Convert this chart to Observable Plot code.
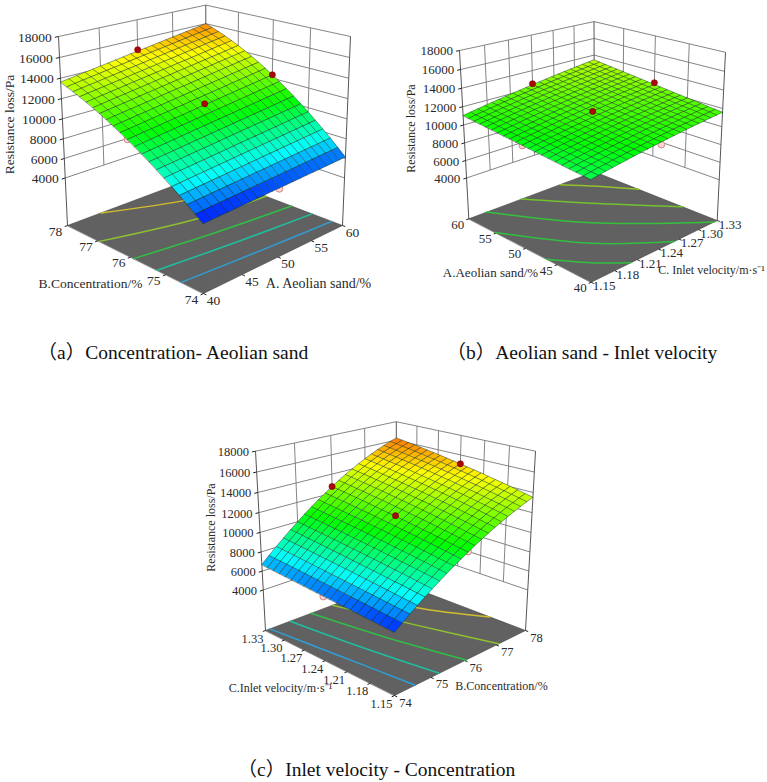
<!DOCTYPE html>
<html><head><meta charset="utf-8">
<style>html,body{margin:0;padding:0;background:#fff}</style>
<script src="https://cdn.jsdelivr.net/npm/d3@7"></script>
<script src="https://cdn.jsdelivr.net/npm/@observablehq/plot@0.6"></script>
</head><body><div id="chart"></div>
<script>
// Resistance loss (Pa) read from the surfaces; rows follow the left floor axis, columns the right floor axis.
const surfaceA = [ // rows B 74..78, columns A 40..60
[5460,5490,5530,5560,5600,5630,5660,5700,5730,5770,5800,5830,5870,5900,5940,5970,6000,6040,6070,6110,6140],
[6030,6070,6120,6160,6200,6240,6280,6330,6370,6410,6450,6490,6540,6580,6620,6660,6710,6750,6790,6830,6880],
[6590,6640,6690,6740,6790,6840,6890,6940,6990,7040,7090,7140,7190,7240,7290,7340,7390,7440,7490,7540,7590],
[7120,7180,7240,7300,7350,7410,7470,7530,7580,7640,7700,7760,7810,7870,7930,7990,8040,8100,8160,8220,8270],
[7640,7710,7770,7840,7900,7960,8030,8090,8160,8220,8290,8350,8420,8480,8550,8610,8680,8740,8800,8870,8930],
[8140,8220,8290,8360,8430,8500,8570,8640,8710,8790,8860,8930,9000,9070,9140,9210,9280,9360,9430,9500,9570],
[8630,8710,8780,8860,8940,9020,9090,9170,9250,9330,9400,9480,9560,9640,9710,9790,9870,9950,10020,10100,10180],
[9100,9180,9260,9350,9430,9510,9600,9680,9760,9850,9930,10010,10100,10180,10260,10340,10430,10510,10590,10680,10760],
[9550,9640,9730,9810,9900,9990,10080,10170,10260,10340,10430,10520,10610,10700,10790,10880,10960,11050,11140,11230,11320],
[9980,10080,10170,10260,10360,10450,10540,10640,10730,10820,10920,11010,11100,11200,11290,11380,11480,11570,11660,11760,11850],
[10400,10500,10600,10690,10790,10890,10990,11080,11180,11280,11380,11480,11570,11670,11770,11870,11960,12060,12160,12260,12360],
[10800,10900,11000,11110,11210,11310,11410,11510,11610,11720,11820,11920,12020,12120,12220,12330,12430,12530,12630,12730,12840],
[11180,11290,11390,11500,11600,11710,11810,11920,12030,12130,12240,12340,12450,12550,12660,12760,12870,12970,13080,13180,13290],
[11550,11660,11770,11870,11980,12090,12200,12310,12420,12530,12630,12740,12850,12960,13070,13180,13290,13390,13500,13610,13720],
[11900,12010,12120,12230,12340,12460,12570,12680,12790,12900,13010,13120,13230,13340,13450,13570,13680,13790,13900,14010,14120],
[12230,12340,12460,12570,12680,12800,12910,13020,13140,13250,13360,13480,13590,13700,13820,13930,14050,14160,14270,14390,14500],
[12540,12660,12770,12890,13000,13120,13240,13350,13470,13580,13700,13810,13930,14040,14160,14270,14390,14500,14620,14730,14850],
[12840,12960,13080,13190,13310,13420,13540,13660,13770,13890,14010,14130,14240,14360,14480,14590,14710,14830,14940,15060,15180],
[13120,13240,13360,13470,13590,13710,13830,13950,14060,14180,14300,14420,14530,14650,14770,14890,15010,15120,15240,15360,15480],
[13380,13500,13620,13740,13860,13980,14090,14210,14330,14450,14570,14690,14800,14920,15040,15160,15280,15400,15510,15630,15750],
[13630,13750,13870,13990,14100,14220,14340,14460,14580,14700,14820,14930,15050,15170,15290,15410,15530,15640,15760,15880,16000]];
const surfaceB = [ // rows A 40..60, columns C 1.15..1.33
[9680,9800,9930,10040,10160,10270,10380,10490,10590,10690,10790,10880,10970,11060,11140,11230,11300,11380,11450,11520,11590],
[9750,9870,10000,10110,10230,10340,10450,10560,10670,10770,10870,10960,11050,11140,11230,11310,11390,11470,11540,11610,11680],
[9820,9940,10070,10190,10300,10420,10530,10640,10740,10850,10950,11040,11140,11230,11310,11400,11480,11560,11630,11710,11770],
[9880,10010,10140,10260,10380,10490,10610,10710,10820,10920,11030,11120,11220,11310,11400,11480,11570,11650,11720,11800,11870],
[9950,10080,10210,10330,10450,10570,10680,10790,10900,11000,11110,11200,11300,11390,11480,11570,11650,11730,11810,11890,11960],
[10020,10150,10280,10400,10520,10640,10760,10870,10980,11080,11190,11290,11380,11480,11570,11660,11740,11820,11900,11980,12050],
[10090,10220,10350,10470,10600,10710,10830,10940,11050,11160,11270,11370,11460,11560,11650,11740,11830,11910,11990,12070,12140],
[10160,10290,10420,10540,10670,10790,10910,11020,11130,11240,11350,11450,11550,11640,11740,11830,11910,12000,12080,12160,12230],
[10220,10360,10490,10620,10740,10860,10980,11100,11210,11320,11430,11530,11630,11730,11820,11910,12000,12090,12170,12250,12330],
[10290,10430,10560,10690,10810,10940,11060,11170,11290,11400,11510,11610,11710,11810,11910,12000,12090,12180,12260,12340,12420],
[10360,10500,10630,10760,10890,11010,11130,11250,11360,11480,11590,11690,11790,11890,11990,12090,12180,12260,12350,12430,12510],
[10430,10570,10700,10830,10960,11080,11210,11330,11440,11560,11670,11770,11880,11980,12080,12170,12260,12350,12440,12520,12600],
[10500,10630,10770,10900,11030,11160,11280,11400,11520,11630,11750,11850,11960,12060,12160,12260,12350,12440,12530,12610,12690],
[10560,10700,10840,10970,11100,11230,11360,11480,11600,11710,11830,11940,12040,12150,12250,12340,12440,12530,12620,12700,12790],
[10630,10770,10910,11050,11180,11310,11430,11560,11670,11790,11910,12020,12120,12230,12330,12430,12530,12620,12710,12790,12880],
[10700,10840,10980,11120,11250,11380,11510,11630,11750,11870,11990,12100,12210,12310,12420,12520,12610,12710,12800,12890,12970],
[10770,10910,11050,11190,11320,11450,11580,11710,11830,11950,12070,12180,12290,12400,12500,12600,12700,12790,12890,12980,13060],
[10840,10980,11120,11260,11400,11530,11660,11780,11910,12030,12150,12260,12370,12480,12590,12690,12790,12880,12980,13070,13150],
[10900,11050,11190,11330,11470,11600,11730,11860,11990,12110,12230,12340,12450,12560,12670,12770,12870,12970,13070,13160,13250],
[10970,11120,11260,11400,11540,11680,11810,11940,12060,12190,12310,12420,12540,12650,12750,12860,12960,13060,13160,13250,13340],
[11040,11190,11330,11480,11610,11750,11880,12010,12140,12260,12390,12500,12620,12730,12840,12950,13050,13150,13250,13340,13430]];
const surfaceC = [ // rows C 1.15..1.33, columns B 74..78
[5640,6190,6720,7240,7740,8220,8690,9140,9580,10000,10400,10790,11160,11510,11850,12170,12470,12760,13030,13290,13530],
[5690,6250,6790,7320,7830,8320,8800,9260,9700,10130,10530,10930,11300,11660,12000,12330,12640,12930,13200,13460,13700],
[5750,6310,6870,7400,7920,8420,8900,9370,9820,10250,10670,11060,11440,11810,12150,12480,12790,13090,13370,13630,13870],
[5800,6380,6940,7480,8010,8520,9010,9480,9940,10370,10800,11200,11580,11950,12300,12640,12950,13250,13530,13790,14040],
[5850,6440,7010,7560,8090,8610,9110,9590,10050,10500,10920,11330,11720,12090,12450,12780,13100,13400,13690,13950,14200],
[5900,6500,7080,7640,8180,8710,9210,9700,10170,10620,11050,11460,11860,12230,12590,12930,13250,13560,13840,14110,14350],
[5960,6560,7150,7720,8270,8800,9310,9800,10280,10740,11170,11590,11990,12370,12730,13080,13400,13700,13990,14260,14510],
[6010,6620,7220,7800,8350,8890,9410,9910,10390,10850,11290,11720,12120,12500,12870,13220,13540,13850,14140,14410,14660],
[6060,6680,7290,7870,8440,8980,9510,10010,10500,10970,11410,11840,12250,12640,13000,13350,13680,13990,14280,14550,14800],
[6110,6750,7360,7950,8520,9070,9610,10120,10610,11080,11530,11960,12380,12770,13140,13490,13820,14130,14420,14690,14940],
[6170,6810,7430,8030,8600,9160,9700,10220,10720,11190,11650,12080,12500,12890,13270,13620,13950,14270,14560,14830,15080],
[6220,6870,7490,8100,8690,9250,9800,10320,10820,11300,11760,12200,12620,13020,13390,13750,14080,14400,14690,14960,15210],
[6270,6930,7560,8180,8770,9340,9890,10420,10920,11410,11870,12320,12740,13140,13520,13880,14210,14530,14820,15090,15340],
[6320,6990,7630,8250,8850,9430,9980,10510,11030,11520,11980,12430,12850,13260,13640,14000,14340,14650,14950,15220,15470],
[6380,7050,7700,8320,8930,9510,10070,10610,11130,11620,12090,12540,12970,13370,13760,14120,14460,14780,15070,15340,15590],
[6430,7110,7760,8400,9010,9600,10160,10700,11230,11720,12200,12650,13080,13490,13870,14240,14580,14890,15190,15460,15710],
[6480,7170,7830,8470,9090,9680,10250,10800,11320,11820,12300,12760,13190,13600,13990,14350,14690,15010,15300,15580,15820],
[6530,7230,7900,8540,9160,9760,10340,10890,11420,11920,12410,12860,13300,13710,14100,14460,14800,15120,15420,15690,15930],
[6590,7290,7960,8610,9240,9840,10420,10980,11510,12020,12510,12970,13400,13820,14210,14570,14910,15230,15520,15790,16040],
[6640,7340,8030,8680,9320,9930,10510,11070,11600,12120,12600,13070,13510,13920,14310,14680,15020,15340,15630,15900,16140],
[6690,7400,8090,8750,9390,10000,10590,11160,11700,12210,12700,13170,13610,14020,14410,14780,15120,15440,15730,16000,16240]];

const resistanceTicks = [4000,6000,8000,10000,12000,14000,16000,18000];
const sandTicks = [40,45,50,55,60];
const concentrationTicks = [74,75,76,77,78];
const velocityTicks = [1.15,1.18,1.21,1.24,1.27,1.30,1.33];

// Design points: [right-axis value, left-axis value, resistance]
const redA = [[50,78,14950],[60,76,12355],[50,76,11495]];
const pinkA = [[40,76,10400],[50,74,5720]];
const redB = [[1.24,60,12490],[1.33,50,12700],[1.24,50,11590]];
const pinkB = [[1.15,50,10330],[1.24,40,10530]];
const redC = [[76,1.33,12700],[78,1.24,15080],[76,1.24,11690]];
const pinkC = [[74,1.24,6100],[76,1.15,10456]];

// Floor contours: [right-axis value, left-axis value]
const contoursA = [
 [[40,74.58],[50,74.42],[60,74.28]],
 [[40,75.24],[50,75.0],[60,74.81]],
 [[40,75.91],[50,75.6],[60,75.38]],
 [[40,76.96],[50.6,76.35],[60,76.12]],
 [[44.4,78],[52.8,77.23],[60,76.88]]];
const contoursB = [
 [[1.276,60],[1.303,56.4],[1.33,52.2]],
 [[1.22,60],[1.266,53.4],[1.33,45.2]],
 [[1.173,60],[1.233,49.6],[1.325,40]],
 [[1.15,55.2],[1.202,46],[1.2625,40]],
 [[1.15,46.6],[1.1745,42.9],[1.201,40]]];
const contoursC = [
 [[74.12,1.33],[74.34,1.24],[74.56,1.15]],
 [[74.68,1.33],[74.92,1.24],[75.24,1.15]],
 [[75.28,1.33],[75.6,1.24],[76.04,1.15]],
 [[75.92,1.33],[76.48,1.24],[77.08,1.15]],
 [[76.88,1.33],[77.2,1.263],[78,1.195]]];
const contourColorsA = ["#2f9fd6","#1fbf9f","#2fbf45","#8fc030","#d2bd2c"];
const contourColorsB = ["#93c22e","#72c22e","#34c23c","#30c040","#30c040"];
const contourColorsC = ["#2f9fd6","#1fbf9f","#2fbf45","#8fc030","#d2bd2c"];

// View options: where the box corners fall on the page, and text layout.
const views = [
 {rows:surfaceA, uDom:[40,60], vDom:[74,78], uTicks:sandTicks, vTicks:concentrationTicks,
  red:redA, pink:pinkA, contours:contoursA, colors:contourColorsA, z0:-1000,
  F:[203,293], R:[342,225], L:[67,225], B:[203,173], TL:[58,36], TR:[350,35],
  font:13.5, uOff:[10,7], vOff:[-12,6], uFmt:String, vFmt:String},
 {rows:surfaceB, uDom:[1.15,1.33], vDom:[40,60], uTicks:velocityTicks, vTicks:sandTicks,
  red:redB, pink:pinkB, contours:contoursB, colors:contourColorsB, z0:-800,
  F:[590.7,281.7], R:[716.7,220], L:[468.3,218.3], B:[593.3,171.3], TL:[459,50], TR:[725,51.7],
  font:13, uOff:[13,4], vOff:[-11,6], uFmt:d=>d.toFixed(2), vFmt:String},
 {rows:surfaceC, uDom:[74,78], vDom:[1.15,1.33], uTicks:concentrationTicks, vTicks:velocityTicks,
  red:redC, pink:pinkC, contours:contoursC, colors:contourColorsC, z0:-400,
  F:[394,695], R:[525,630], L:[265,630], B:[395,580.7], TL:[255,450.7], TR:[535,450.7],
  font:12.5, uOff:[11,7], vOff:[-13,8], uFmt:String, vFmt:d=>d.toFixed(2)}
];
const axisTitles = [
 {t:"Resistance loss/Pa",x:9,y:124,size:13.5,rotate:-90},
 {t:"B.Concentration/%",x:90,y:283,size:13.5},
 {t:"A. Aeolian sand/%",x:318,y:283,size:14},
 {t:"Resistance loss/Pa",x:411,y:128,size:12,rotate:-90},
 {t:"A.Aeolian sand/%",x:490,y:272,size:13},
 {t:"C. Inlet velocity/m·s⁻¹",x:711,y:270,size:12},
 {t:"Resistance loss/Pa",x:211,y:527,size:12,rotate:-90},
 {t:"C.Inlet velocity/m·s⁻¹",x:280,y:688,size:12},
 {t:"B.Concentration/%",x:501,y:686,size:12}
];
const captions = [
 {t:"（a）Concentration- Aeolian sand",x:37,y:352},
 {t:"（b）Aeolian sand - Inlet velocity",x:446,y:352},
 {t:"（c）Inlet velocity - Concentration",x:237,y:769}
];
const serif = "'Liberation Serif','Times New Roman',serif";
const capFont = "'Liberation Serif','Noto Sans CJK SC',serif";

function camera(c){
  const {F,R,L,B,TL,z0} = c;
  const g = (F[1]+B[1]-R[1]-L[1])/(R[1]+L[1]-2*B[1]);
  const k = (L[0]-R[0])*(1+g)/(TL[0]-c.TR[0]);
  const i = k-1-g;
  const a = [0,1].map(n=>R[n]*(1+g)-F[n]);
  const b = [0,1].map(n=>L[n]*(1+g)-F[n]);
  const e = [0,1].map(n=>TL[n]*k-L[n]*(1+g));
  return (u,v,z)=>{
    const w=(z-z0)/(18000-z0), d=1+g*(u+v)+i*w;
    return [(F[0]+a[0]*u+b[0]*v+e[0]*w)/d,(F[1]+a[1]*u+b[1]*v+e[1]*w)/d];
  };
}

const wall=[], edge=[], ticks=[], floors=[], cells=[], redPts=[], pinkPts=[], labels=[], lines=[];
views.forEach((V,p)=>{
  const P=camera(V);
  const un=d=>(d-V.uDom[0])/(V.uDom[1]-V.uDom[0]), vn=d=>(d-V.vDom[0])/(V.vDom[1]-V.vDom[0]);
  const link=(arr,A,B)=>arr.push({x1:A[0],y1:A[1],x2:B[0],y2:B[1]});
  const top=18000, low=resistanceTicks[0];
  // back walls
  resistanceTicks.forEach(z=>{
    link(wall,P(0,1,z),P(1,1,z)); link(wall,P(1,0,z),P(1,1,z));
    link(ticks,P(0,1,z),P(-0.022,1,z));
    labels.push({p:P(-0.022,1,z),t:String(z),anchor:"end",size:V.font});
  });
  V.uTicks.slice(1,-1).forEach(d=>link(wall,P(un(d),1,low),P(un(d),1,top)));
  V.vTicks.slice(1,-1).forEach(d=>link(wall,P(1,vn(d),low),P(1,vn(d),top)));
  link(edge,P(0,1,V.z0),P(0,1,top)); link(edge,P(1,0,V.z0),P(1,0,top)); link(edge,P(1,1,V.z0),P(1,1,top));
  // floor
  [[0,0],[1,0],[1,1],[0,1]].forEach(([u,v])=>{const q=P(u,v,V.z0);floors.push({x:q[0],y:q[1],id:p});});
  V.uTicks.forEach(d=>{const u=un(d);link(ticks,P(u,0,V.z0),P(u,-0.018,V.z0));
    labels.push({p:P(u,0,V.z0),t:V.uFmt(d),dx:V.uOff[0],dy:V.uOff[1],anchor:"middle",size:V.font});});
  V.vTicks.forEach(d=>{const v=vn(d);link(ticks,P(0,v,V.z0),P(-0.018,v,V.z0));
    labels.push({p:P(0,v,V.z0),t:V.vFmt(d),dx:V.vOff[0],dy:V.vOff[1],anchor:"middle",size:V.font});});
  // contours
  V.contours.forEach((c,n)=>lines.push({pts:c.map(([a,b])=>{const q=P(un(a),vn(b),V.z0);return {x:q[0],y:q[1]};}),color:V.colors[n]}));
  // surface cells, far side first
  const N=V.rows.length-1;
  for(let j=N-1;j>=0;j--)for(let i=N-1;i>=0;i--){
    const id=p+"-"+j+"-"+i, val=(V.rows[j][i]+V.rows[j][i+1]+V.rows[j+1][i]+V.rows[j+1][i+1])/4;
    [[i,j],[i+1,j],[i+1,j+1],[i,j+1]].forEach(([a,b])=>{
      const q=P(a/N,b/N,V.rows[b][a]);cells.push({x:q[0],y:q[1],id,val});
    });
  }
  V.red.forEach(([a,b,z])=>{const q=P(un(a),vn(b),z);redPts.push({x:q[0],y:q[1]});});
  V.pink.forEach(([a,b,z])=>{const q=P(un(a),vn(b),z);pinkPts.push({x:q[0],y:q[1]});});
});

const linkOpts={x1:"x1",y1:"y1",x2:"x2",y2:"y2"};
const marks=[
  Plot.link(wall,{...linkOpts,stroke:"#777",strokeWidth:0.9}),
  Plot.link(edge,{...linkOpts,stroke:"#555",strokeWidth:1}),
  Plot.line(floors,{x:"x",y:"y",z:"id",fill:"#616161",stroke:"#444",strokeWidth:0.6,curve:"linear-closed"}),
  Plot.link(ticks,{...linkOpts,stroke:"#222",strokeWidth:1}),
  ...lines.map(l=>Plot.line(l.pts,{x:"x",y:"y",stroke:l.color,strokeWidth:1.5,curve:"catmull-rom"})),
  Plot.dot(pinkPts,{x:"x",y:"y",r:3.4,fill:"#fbd8d8",stroke:"#d58585",strokeWidth:1}),
  Plot.line(cells,{x:"x",y:"y",z:"id",fill:"val",stroke:"#143020",strokeOpacity:0.6,strokeWidth:0.75,curve:"linear-closed"}),
  Plot.dot(redPts,{x:"x",y:"y",r:3.1,fill:"#a80808",stroke:"#7a0000",strokeWidth:0.6}),
  Plot.text(labels.filter(d=>d.anchor==="end"),{x:d=>d.p[0],y:d=>d.p[1],text:"t",dx:-3,textAnchor:"end",fontFamily:serif,fontSize:d=>d.size,fill:"#2a2a2a"}),
  Plot.text(labels.filter(d=>d.anchor==="middle"),{x:d=>d.p[0]+d.dx,y:d=>d.p[1]+d.dy,text:"t",fontFamily:serif,fontSize:d=>d.size,fill:"#2a2a2a"}),
  Plot.text(axisTitles,{x:"x",y:"y",text:"t",fontFamily:serif,fontSize:"size",rotate:d=>d.rotate||0,fill:"#2a2a2a"}),
  Plot.text(captions,{x:"x",y:"y",text:"t",textAnchor:"start",fontFamily:capFont,fontSize:19.5,fill:"#111"})
];
const chart=Plot.plot({
  width:767,height:782,margin:0,
  style:{background:"#fff"},
  x:{domain:[0,767],range:[0,767],axis:null},
  y:{domain:[0,782],range:[0,782],axis:null},
  color:{type:"linear",domain:[5400,7600,10600,14400,17800],range:["#0000ff","#00ffff","#00ff00","#ffff00","#ff0000"]},
  marks
});
document.getElementById("chart").appendChild(chart);
</script></body></html>
